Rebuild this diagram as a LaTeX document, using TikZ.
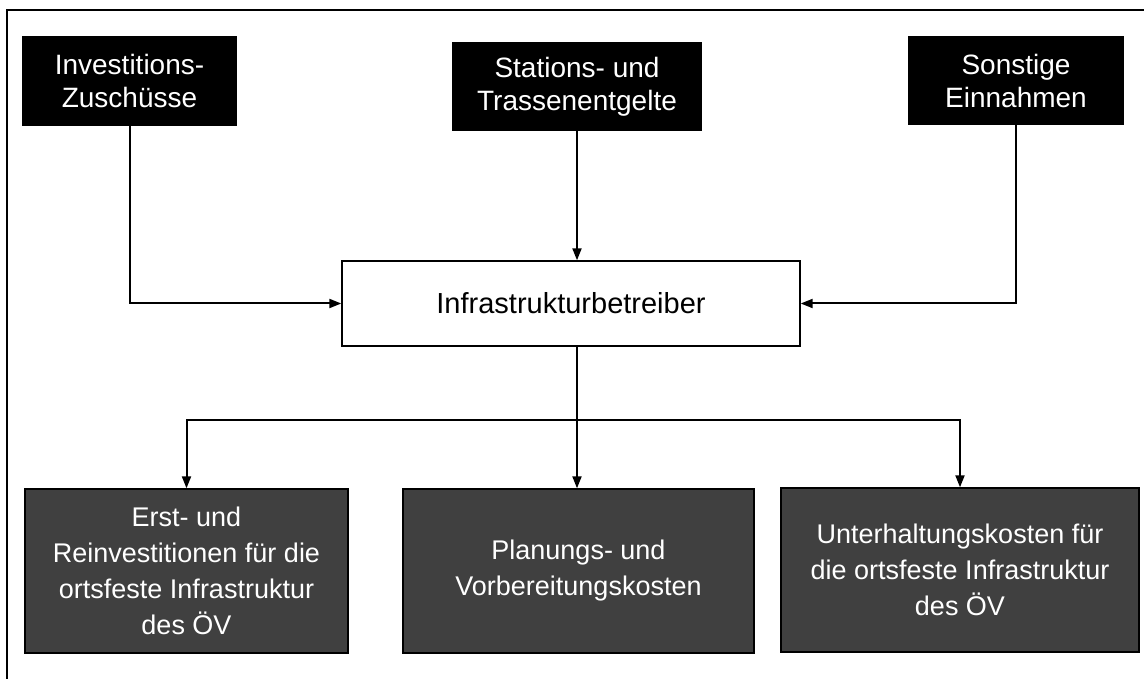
\documentclass[tikz,border=0pt]{standalone}
\usepackage{fontspec}
\setmainfont{Liberation Sans}
\usetikzlibrary{arrows.meta}
\begin{document}
\begin{tikzpicture}[x=1pt,y=-1pt,
  topbox/.style={draw=black,line width=1.4pt,fill=black,text=white,align=center,
    font=\fontsize{28}{33}\selectfont,inner sep=0pt},
  botbox/.style={draw=black,line width=1.4pt,fill=black!75,text=white,align=center,
    font=\fontsize{27}{36}\selectfont,inner sep=0pt},
  midbox/.style={draw=black,line width=1.4pt,fill=white,text=black,align=center,
    font=\fontsize{29}{34}\selectfont,inner sep=0pt},
  conn/.style={line width=2pt,-{Triangle[length=12pt,width=9pt]}},
  frame/.style={line width=1.8pt}]
\useasboundingbox (0,0) rectangle (1144,679);
\coordinate (tl) at (7,10);
\coordinate (tr) at (1144,10);
\coordinate (bl) at (7,679);
\draw[frame] (tr) -- (tl) -- (bl);
\node[topbox,minimum width=213pt,minimum height=88pt] (inv) at (129.5,81) {Investitions-\\Zuschüsse};
\node[topbox,minimum width=248pt,minimum height=87pt] (sta) at (577,86.5) {Stations- und\\Trassenentgelte};
\node[topbox,minimum width=214pt,minimum height=87pt] (son) at (1016,80.5) {Sonstige\\Einnahmen};
\node[midbox,minimum width=458pt,minimum height=85pt] (inf) at (571,303.5) {Infrastrukturbetreiber};
\node[botbox,minimum width=323pt,minimum height=164pt] (erst) at (186.5,571) {Erst- und\\Reinvestitionen für die\\ortsfeste Infrastruktur\\des ÖV};
\node[botbox,minimum width=351pt,minimum height=164pt] (plan) at (578.5,571) {Planungs- und\\Vorbereitungskosten};
\node[botbox,minimum width=358pt,minimum height=164pt] (unt) at (960,570) {Unterhaltungskosten für\\die ortsfeste Infrastruktur\\des ÖV};
\coordinate (bus) at (577,420);
\draw[conn] (inv.south) |- (inf.west);
\draw[conn] (sta.south) -- (sta.south |- inf.north);
\draw[conn] (son.south) |- (inf.east);
\draw[line width=2pt] (bus |- inf.south) -- (bus);
\draw[conn] (bus) -| (erst.north);
\draw[conn] (bus) -- (bus |- plan.north);
\draw[conn] (bus) -| (unt.north);
\end{tikzpicture}
\end{document}
